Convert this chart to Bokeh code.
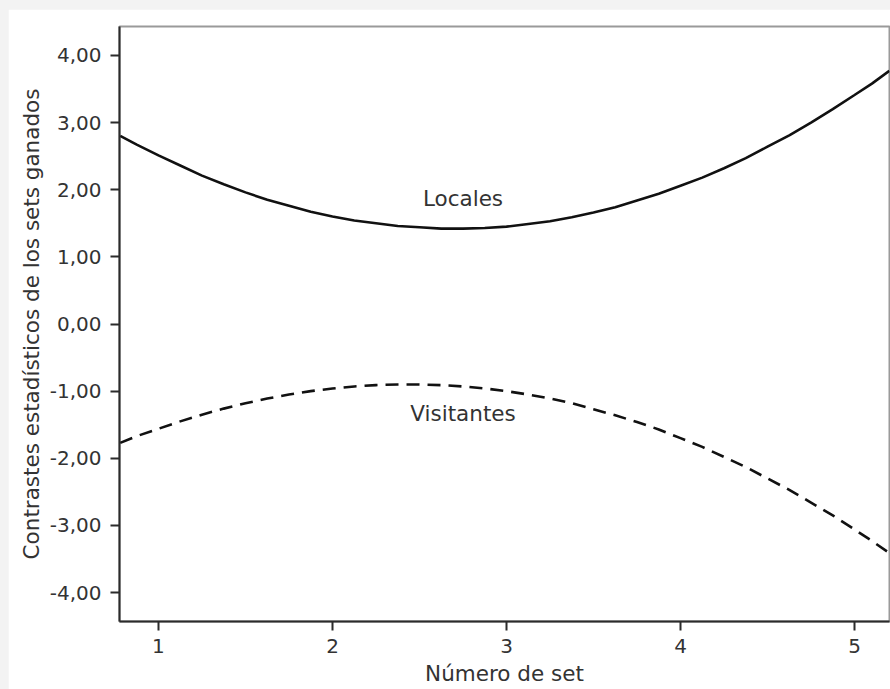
from bokeh.plotting import figure
from bokeh.models import Range1d, FixedTicker, ColumnDataSource
from bokeh.core.properties import value
from bokeh.embed import file_html
from bokeh.resources import INLINE

# Values
set_num = [0.78, 0.875, 1.0, 1.125, 1.25, 1.375, 1.5, 1.625, 1.75, 1.875,
           2.0, 2.125, 2.25, 2.375, 2.5, 2.625, 2.75, 2.875, 3.0, 3.125,
           3.25, 3.375, 3.5, 3.625, 3.75, 3.875, 4.0, 4.125, 4.25, 4.375,
           4.5, 4.625, 4.75, 4.875, 5.0, 5.1, 5.2]
locales = [2.80, 2.67, 2.51, 2.36, 2.21, 2.08, 1.96, 1.85, 1.76, 1.67,
           1.60, 1.54, 1.50, 1.46, 1.44, 1.42, 1.42, 1.43, 1.45, 1.49,
           1.53, 1.59, 1.66, 1.74, 1.84, 1.94, 2.06, 2.18, 2.32, 2.47,
           2.64, 2.81, 3.00, 3.20, 3.41, 3.58, 3.77]
visitantes = [-1.77, -1.67, -1.56, -1.45, -1.35, -1.26, -1.18, -1.11, -1.05, -1.00,
              -0.96, -0.93, -0.91, -0.90, -0.90, -0.91, -0.93, -0.96, -1.00, -1.05,
              -1.11, -1.18, -1.27, -1.36, -1.46, -1.57, -1.70, -1.83, -1.98, -2.13,
              -2.30, -2.47, -2.66, -2.85, -3.06, -3.23, -3.41]

x_ticks = [1, 2, 3, 4, 5]
x_tick_labels = ["1", "2", "3", "4", "5"]
y_ticks = [4, 3, 2, 1, 0, -1, -2, -3, -4]
y_tick_labels = ["4,00", "3,00", "2,00", "1,00", "0,00", "-1,00", "-2,00", "-3,00", "-4,00"]

series_names = ["Locales", "Visitantes"]
label_x = [2.75, 2.75]
label_y = [1.87, -1.335]

x_title = "Número de set"
y_title = "Contrastes estadísticos de los sets ganados"

FONT = "DejaVu Sans"
TEXT_COLOR = "#333333"

p = figure(width=882, height=680, output_backend="svg", toolbar_location=None,
           x_range=Range1d(0.776, 5.201), y_range=Range1d(-4.43, 4.43),
           min_border_left=111, min_border_top=17, min_border_bottom=68,
           min_border_right=1)
p.background_fill_color = "white"
p.border_fill_color = "white"
p.outline_line_color = "#9a9a9a"
p.outline_line_width = 2
p.grid.visible = False

p.line(set_num, locales, line_color="#111111", line_width=2.6)
p.line(set_num, visitantes, line_color="#111111", line_width=2.6, line_dash="13 8")

src = ColumnDataSource(dict(x=label_x, y=label_y, t=series_names))
p.text(x="x", y="y", text="t", source=src, text_align="center",
       text_baseline="middle", text_font=value(FONT), text_font_size="21.5px",
       text_color=TEXT_COLOR)

for ax in (p.xaxis[0], p.yaxis[0]):
    ax.axis_line_color = "#2b2b2b"
    ax.axis_line_width = 2
    ax.major_tick_line_color = "#2b2b2b"
    ax.major_tick_line_width = 2
    ax.major_tick_in = 0
    ax.minor_tick_line_color = None
    ax.major_label_text_font = FONT
    ax.major_label_text_font_size = "20px"
    ax.major_label_text_color = TEXT_COLOR
    ax.axis_label_text_font = FONT
    ax.axis_label_text_font_size = "21.5px"
    ax.axis_label_text_font_style = "normal"
    ax.axis_label_text_color = TEXT_COLOR

p.xaxis.ticker = FixedTicker(ticks=x_ticks)
p.xaxis.major_label_overrides = dict(zip(x_ticks, x_tick_labels))
p.xaxis.major_tick_out = 9
p.xaxis.major_label_standoff = 8
p.xaxis.axis_label = x_title
p.xaxis.axis_label_standoff = 5

p.yaxis.ticker = FixedTicker(ticks=y_ticks)
p.yaxis.major_label_overrides = dict(zip(y_ticks, y_tick_labels))
p.yaxis.major_tick_out = 9
p.yaxis.major_label_standoff = 9
p.yaxis.axis_label = y_title
p.yaxis.axis_label_standoff = 3

html = file_html(p, INLINE)
html = html.replace(
    "</head>",
    "<style>html{background:#f3f3f3 !important; padding:0 !important; margin:0 !important;}"
    " body{background:#f3f3f3 !important; padding:9px 0 0 8px !important; margin:0 !important;}</style></head>",
    1)
open("out.html", "w").write(html)
